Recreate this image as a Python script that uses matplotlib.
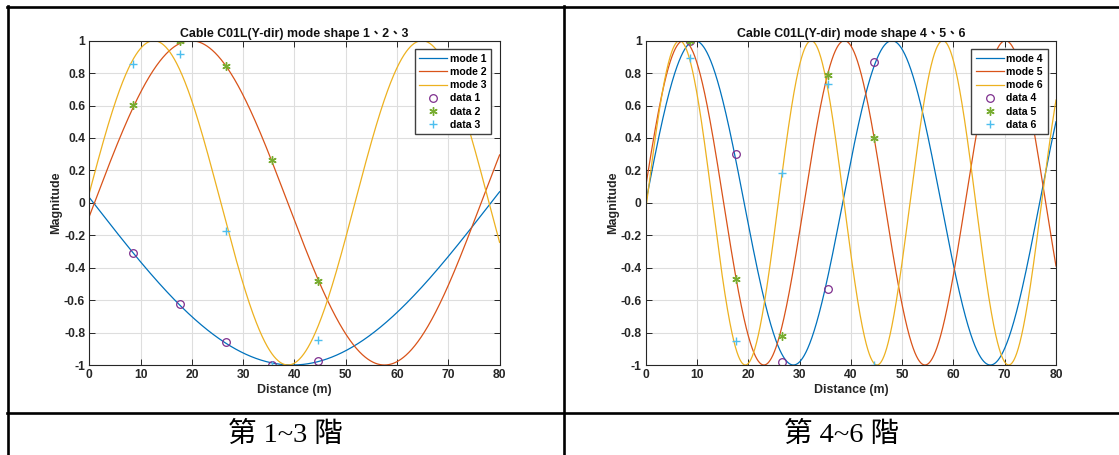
import numpy as np
import matplotlib
matplotlib.use('Agg')
import matplotlib.pyplot as plt
from matplotlib.lines import Line2D

plt.rcParams['font.family'] = ['Liberation Sans', 'Noto Sans CJK TC', 'DejaVu Sans']
plt.rcParams['font.weight'] = 'bold'

# sensor positions along the cable (m)
sensor_x = [8.6, 17.6, 26.6, 35.6, 44.5]

# identified mode values at the sensors
data1 = [-0.307, -0.626, -0.860, -0.998, -0.977]
data2 = [0.601, 1.0, 0.844, 0.263, -0.481]
data3 = [0.856, 0.916, -0.173, -1.0, -0.846]
data4 = [1.0, 0.302, -0.981, -0.531, 0.868]
data5 = [1.0, -0.467, -0.819, 0.79, 0.401]
data6 = [0.891, -0.852, 0.185, 0.73, -1.0]

# fitted mode shapes: sign, zero crossing (m), half wavelength (m)
mode_sign = [-1, 1, 1, 1, 1, 1]
mode_x0 = [0.81, 1.0, -0.5, 0.0, -0.5, 0.18]
mode_half = [77.5, 37.7, 26.15, 19.2, 15.70, 12.836]

titles = ['Cable C01L(Y-dir) mode shape 1、2、3',
          'Cable C01L(Y-dir) mode shape 4、5、6']
captions = ['第 1~3 階', '第 4~6 階']

line_colors = ['#0072BD', '#D95319', '#EDB120']
mark_colors = ['#7E2F8E', '#77AC30', '#4DBEEE']
markers = ['o', (6, 2, 0), '+']

W, H = 1119, 455
fig = plt.figure(figsize=(W / 100, H / 100), dpi=100)

xs = np.linspace(0, 80, 1601)
panels = [(89.3, [data1, data2, data3], 0), (645.7, [data4, data5, data6], 3)]
yt = np.arange(-1, 1.01, 0.2)

for p, (left_px, datas, m0) in enumerate(panels):
    ax = fig.add_axes([left_px / W, 1 - 365 / H, 410.3 / W, 324.3 / H])
    for j in range(3):
        k = m0 + j
        ys = mode_sign[k] * np.sin(np.pi * (xs - mode_x0[k]) / mode_half[k])
        ax.plot(xs, ys, color=line_colors[j], lw=0.9, label='mode %d' % (k + 1))
    for j in range(3):
        k = m0 + j
        if j == 0:
            ax.plot(sensor_x, datas[j], ls='none', marker='o', ms=5.5, mfc='none',
                    mec=mark_colors[j], mew=0.9, label='data %d' % (k + 1))
        else:
            ax.plot(sensor_x, datas[j], ls='none', marker=markers[j], ms=6,
                    mec=mark_colors[j], mfc=mark_colors[j], mew=1.0,
                    label='data %d' % (k + 1))
    ax.set_xlim(0, 80)
    ax.set_ylim(-1, 1)
    ax.set_xticks(np.arange(0, 81, 10))
    ax.set_yticks(yt)
    ax.set_yticklabels(['%g' % (round(v, 1) + 0.0) for v in yt])
    ax.grid(True, color='#dedede', lw=0.8)
    ax.set_axisbelow(True)
    ax.tick_params(direction='in', top=True, right=True, labelsize=8.7,
                   length=4, width=0.7, colors='#262626', pad=3)
    for s in ax.spines.values():
        s.set_color('#262626')
        s.set_linewidth(0.8)
    ax.set_title(titles[p], fontsize=8.9, fontweight='bold', pad=3, color='#111111')
    ax.set_xlabel('Distance (m)', fontsize=8.9, fontweight='bold', labelpad=2,
                  color='#262626')
    ax.set_ylabel('Magnitude', fontsize=9, fontweight='bold', labelpad=1,
                  color='#262626')
    leg = ax.legend(loc='upper right', fontsize=7.6, frameon=True, fancybox=False,
                    edgecolor='#404040', framealpha=1, handlelength=2.65,
                    labelspacing=0.3, borderaxespad=0.8, borderpad=0.45,
                    handletextpad=0.25)
    leg.get_frame().set_linewidth(1.0)

# table rules
lw = 1.9
def hline(y, x0, x1):
    fig.add_artist(Line2D([x0 / W, x1 / W], [1 - y / H, 1 - y / H],
                          color='black', lw=lw))
def vline(x, y0, y1):
    fig.add_artist(Line2D([x / W, x / W], [1 - y0 / H, 1 - y1 / H],
                          color='black', lw=lw))

hline(7.3, 7, W)
hline(412.7, 7, W)
vline(8, 6.3, H)
vline(563.7, 6.3, H)

cap_x = [285, 842]
for cx, cap in zip(cap_x, captions):
    fig.text(cx / W, 1 - 435 / H, cap, ha='center', va='center', fontsize=20.5,
             fontweight='normal', family=['Liberation Serif', 'Noto Sans CJK TC'])

fig.savefig('out.png', dpi=100)
